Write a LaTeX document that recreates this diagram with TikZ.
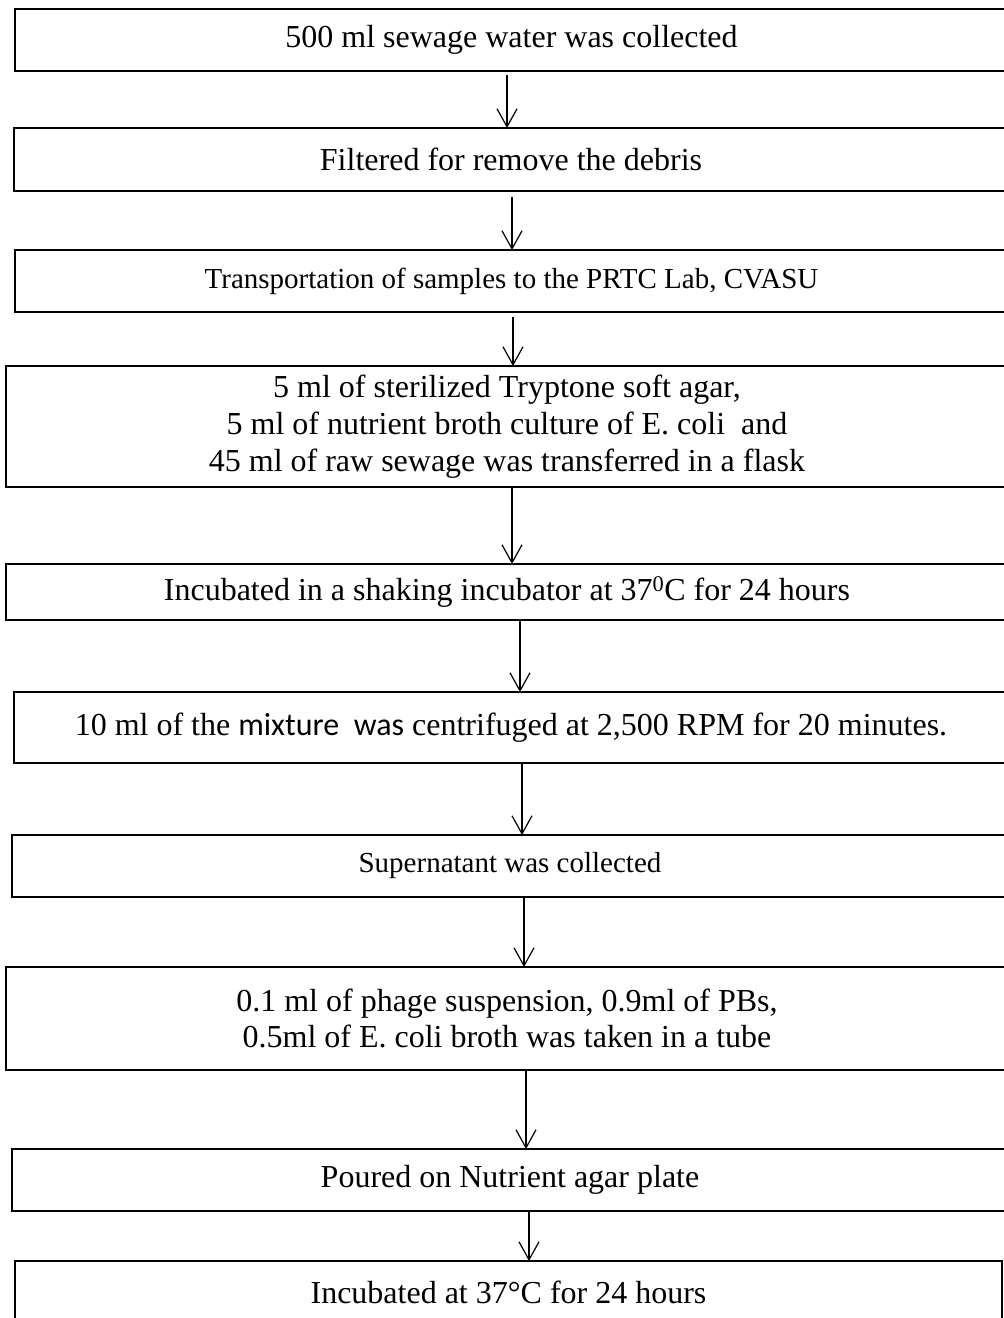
\documentclass[tikz,border=0pt]{standalone}
\usepackage{fontspec}
\setmainfont{Liberation Serif}
\newfontfamily\calib{Carlito}
\usetikzlibrary{arrows.meta,calc}
\begin{document}
\begin{tikzpicture}[x=1pt,y=-1pt,
  stepbox/.style={draw=black, line width=2pt, inner sep=0pt, outer sep=0pt, align=center,
    font=\fontsize{32}{36.8}\selectfont},
  smalltxt/.style={font=\fontsize{29}{33.4}\selectfont},
  arr/.style={line width=1.2pt, -{Straight Barb[length=18pt,width=20pt,line width=1.2pt]}}]
\useasboundingbox (0,0) rectangle (1004,1318);
\clip (0,0) rectangle (1004,1318);
\fill[white] (0,0) rectangle (1004,1318);

\node[stepbox, minimum width=993pt, minimum height=62pt] (b1) at (511.5,40) {500 ml sewage water was collected};
\node[stepbox, minimum width=994pt, minimum height=63pt] (b2) at (511,159.5) {Filtered for remove the debris};
\node[stepbox, smalltxt, minimum width=993pt, minimum height=62pt] (b3) at (511.5,281) {Transportation of samples to the PRTC Lab, CVASU};
\node[stepbox, minimum width=1002pt, minimum height=121pt] (b4) at (507,426.5) {5 ml of sterilized Tryptone soft agar,\\5 ml of nutrient broth culture of E. coli~ and\\45 ml of raw sewage was transferred in a flask};
\node[stepbox, minimum width=1002pt, minimum height=56pt] (b5) at (507,592) {Incubated in a shaking incubator at 37\textsuperscript{0}C for 24 hours};
\node[stepbox, minimum width=994pt, minimum height=71pt] (b6) at (511,727.5) {10 ml of the {\calib mixture~ was} centrifuged at 2,500 RPM for 20 minutes.};
\node[stepbox, smalltxt, minimum width=996pt, minimum height=62pt] (b7) at (510,866) {Supernatant was collected};
\node[stepbox, minimum width=1002pt, minimum height=103pt] (b8) at (507,1018.5) {0.1 ml of phage suspension, 0.9ml of PBs,\\0.5ml of E. coli broth was taken in a tube};
\node[stepbox, minimum width=996pt, minimum height=62pt] (b9) at (510,1180) {Poured on Nutrient agar plate};
\node[stepbox, minimum width=987pt, minimum height=63pt] (b10) at (508.5,1292.5) {Incubated at 37°C for 24 hours};

\coordinate (x1) at (507,0);
\coordinate (x2) at (512,0);
\coordinate (x3) at (513,0);
\coordinate (x4) at (512,0);
\coordinate (x5) at (520,0);
\coordinate (x6) at (522,0);
\coordinate (x7) at (524,0);
\coordinate (x8) at (526,0);
\coordinate (x9) at (529,0);

\draw[arr] ($(b1.south -| x1)+(0,4)$) -- (b2.north -| x1);
\draw[arr] ($(b2.south -| x2)+(0,6)$) -- (b3.north -| x2);
\draw[arr] ($(b3.south -| x3)+(0,5)$) -- (b4.north -| x3);
\draw[arr] (b4.south -| x4) -- (b5.north -| x4);
\draw[arr] (b5.south -| x5) -- (b6.north -| x5);
\draw[arr] (b6.south -| x6) -- (b7.north -| x6);
\draw[arr] (b7.south -| x7) -- (b8.north -| x7);
\draw[arr] (b8.south -| x8) -- (b9.north -| x8);
\draw[arr] (b9.south -| x9) -- (b10.north -| x9);
\end{tikzpicture}
\end{document}
